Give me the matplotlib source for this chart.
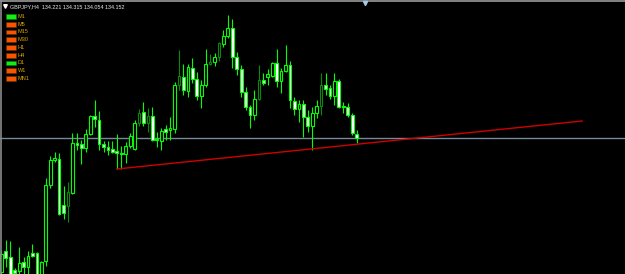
import matplotlib
matplotlib.use("Agg")
import matplotlib.pyplot as plt
from matplotlib.patches import Rectangle
import numpy as np

# ---- data (GBPJPY H4 candles) ----
opens = [131.47, 131.89, 131.77, 131.51, 131.49, 131.67, 131.57, 131.85, 131.85, 131.41,
         131.69, 133.21, 133.71, 133.73, 132.81, 132.79, 133.05, 134.05, 134.03, 133.95,
         134.23, 134.59, 134.51, 134.03, 133.97, 133.93, 133.89, 133.85, 133.83, 133.99,
         133.93, 134.45, 134.67, 134.45, 134.59, 134.13, 134.09, 134.33, 134.31, 134.33,
         135.21, 135.37, 135.09, 135.55, 135.33, 134.99, 135.21, 135.63, 135.67, 135.77,
         136.03, 136.19, 136.35, 135.77, 135.53, 135.07, 134.77, 134.61, 134.93, 135.31,
         135.37, 135.39, 135.65, 135.29, 135.49, 135.61, 134.89, 134.73, 134.83, 134.57,
         134.39, 134.65, 134.79, 135.21, 135.15, 134.99, 135.29, 134.79, 134.77, 134.61,
         134.221]
highs = [131.91, 132.11, 132.09, 131.55, 131.97, 131.77, 131.89, 132.03, 131.87, 131.69,
         133.35, 133.79, 133.87, 133.85, 133.19, 133.27, 134.25, 134.25, 134.11, 134.33,
         134.61, 134.91, 134.69, 134.09, 134.09, 134.09, 134.23, 133.99, 134.07, 134.25,
         134.51, 134.73, 134.87, 134.75, 134.77, 134.27, 134.35, 134.41, 134.57, 135.27,
         135.91, 135.63, 135.63, 135.75, 135.47, 135.31, 135.93, 135.83, 135.85, 136.07,
         136.31, 136.61, 136.53, 135.87, 135.61, 135.17, 134.81, 135.11, 135.61, 135.45,
         135.53, 135.67, 135.93, 135.55, 136.01, 135.69, 134.97, 134.91, 134.91, 134.71,
         134.77, 134.91, 135.45, 135.45, 135.21, 135.45, 135.33, 134.87, 134.85, 134.65,
         134.315]
lows = [131.39, 131.57, 131.35, 131.39, 131.39, 131.39, 131.41, 131.77, 131.35, 131.37,
        131.59, 133.15, 133.67, 132.61, 132.53, 132.47, 133.03, 133.91, 133.63, 133.87,
        134.21, 134.37, 133.91, 133.87, 133.81, 133.85, 133.53, 133.53, 133.65, 133.95,
        133.91, 134.39, 134.39, 134.27, 134.09, 133.97, 133.91, 134.11, 134.11, 134.25,
        135.11, 135.01, 134.97, 135.25, 134.91, 134.75, 135.17, 135.61, 135.59, 135.69,
        135.97, 136.15, 135.55, 135.41, 134.97, 134.71, 134.35, 134.51, 134.91, 135.21,
        135.21, 135.37, 135.17, 135.05, 135.47, 134.75, 134.61, 134.47, 134.17, 134.27,
        133.91, 134.55, 134.61, 135.01, 134.93, 134.81, 134.75, 134.65, 134.57, 134.21,
        134.054]
closes = [131.83, 131.75, 131.39, 131.45, 131.65, 131.57, 131.79, 131.79, 131.39, 131.67,
          133.21, 133.71, 133.75, 132.63, 132.65, 133.07, 134.05, 134.01, 133.95, 134.23,
          134.59, 134.53, 134.03, 133.97, 133.91, 133.87, 133.85, 133.83, 133.99, 134.19,
          134.45, 134.65, 134.45, 134.59, 134.11, 134.11, 134.29, 134.27, 134.35, 135.21,
          135.39, 135.11, 135.57, 135.33, 134.99, 135.21, 135.63, 135.67, 135.77, 136.05,
          136.19, 136.35, 135.77, 135.53, 135.07, 134.77, 134.61, 134.93, 135.31, 135.25,
          135.43, 135.65, 135.29, 135.49, 135.61, 134.91, 134.73, 134.83, 134.57, 134.39,
          134.65, 134.79, 135.21, 135.13, 134.99, 135.29, 134.77, 134.77, 134.61, 134.25,
          134.152]
dim_bars = [15, 31, 33, 40, 47, 49, 58, 72]   # bars drawn in darker green

bid_price = 134.152
trend_x = [26, 130.8]
trend_y = [133.53, 134.49]

symbol_title = "GBPJPY,H4  134.221 134.315 134.054 134.152"
timeframes = ["M1", "M5", "M15", "M30", "H1", "H4", "D1", "W1", "MN1"]
tf_up = [True, False, False, False, False, False, True, False, False]

# ---- figure ----
W, H = 625, 274
fig = plt.figure(figsize=(W / 100, H / 100), dpi=100, facecolor="black")
ax = fig.add_axes([0, 0, 1, 1])
ax.set_facecolor("black")
ax.axis("off")

n = len(opens)
idx = np.arange(n)
o = np.array(opens); c = np.array(closes); h = np.array(highs); l = np.array(lows)
green = "#00ff00"
dark = "#0a8a0a"
cols = [dark if i in dim_bars else green for i in range(n)]

ax.vlines(idx, l, h, colors=cols, linewidth=0.8, zorder=2)
bottoms = np.minimum(o, c)
heights = np.maximum(np.abs(c - o), 0.012)
faces = ["black" if c[i] >= o[i] else "white" for i in range(n)]
ax.bar(idx, heights, bottom=bottoms, width=0.62, color=faces,
       edgecolor=cols, linewidth=0.8, zorder=3)

ax.axhline(bid_price, color="#778899", linewidth=1.0, zorder=1)
ax.plot(trend_x, trend_y, color="#d00000", linewidth=1.0, zorder=4)

ax.set_xlim(-1.4 / 4.44, (W - 1.4) / 4.44)
ax.set_ylim(131.43, 136.91)

# ---- overlay in pixel coordinates ----
ov = fig.add_axes([0, 0, 1, 1])
ov.set_xlim(0, W)
ov.set_ylim(H, 0)
ov.axis("off")
ov.patch.set_alpha(0)

ov.plot([0, W], [0.5, 0.5], color="#9a9a9a", linewidth=1.2)
ov.plot([0.7, 0.7], [0, H], color="#8a8a8a", linewidth=1.2)
ov.plot([364.5], [2.5], marker="v", color="#a8c8e8", markersize=3, linestyle="none")
ov.plot([5], [6], marker="v", color="white", markersize=2.6, linestyle="none")

ov.text(10, 6.3, symbol_title, color="#e8e8e8", fontsize=3.9,
        family="Liberation Sans", va="center", ha="left")

row0, step = 16.4, 7.75
for k, (tf, up) in enumerate(zip(timeframes, tf_up)):
    yc = row0 + k * step
    fc = "#11ee11" if up else "#ff5200"
    ov.add_patch(Rectangle((6, yc - 2.4), 10, 4.8, facecolor=fc,
                           edgecolor="#553300" if not up else "#117711", linewidth=0.4))
    ov.text(18, yc, tf, color="#d8a400", fontsize=4.0, family="Liberation Sans",
            va="center", ha="left")

fig.savefig("out.png", dpi=100, facecolor="black")
